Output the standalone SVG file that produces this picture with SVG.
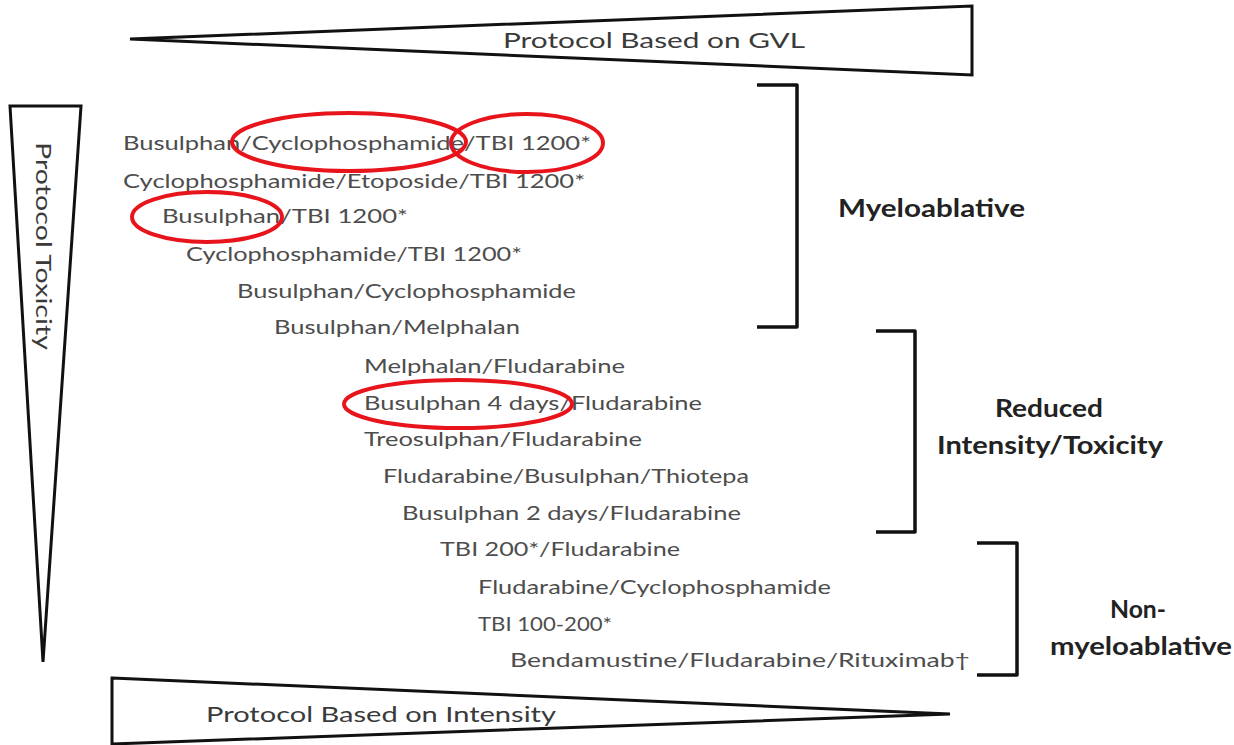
<svg xmlns="http://www.w3.org/2000/svg" width="1234" height="745" viewBox="0 0 1234 745">
<style>
.tri{fill:#fff;stroke:#111;stroke-width:3;stroke-linejoin:miter}
.br{fill:none;stroke:#111;stroke-width:3.5;stroke-linejoin:round}
.t{font-family:Lato,"Open Sans","Liberation Sans",sans-serif;font-size:20px;fill:#4d4d4d}
.ax{font-family:Lato,"Open Sans","Liberation Sans",sans-serif;font-size:22px;fill:#3a3a3a}
.lb{font-family:Lato,"Open Sans","Liberation Sans",sans-serif;font-size:24px;font-weight:bold;fill:#222}
.ring{fill:none;stroke:#e8141c;stroke-width:4}
</style>
<rect width="1234" height="745" fill="#fff"/>
<g id="gvl-axis">
<polygon class="tri" points="130,39 972,6 972,75"/>
<text class="ax" x="503" y="48" textLength="302" lengthAdjust="spacingAndGlyphs">Protocol Based on GVL</text>
</g>
<g id="toxicity-axis">
<polygon class="tri" points="10,106 81,106 43,662"/>
<text class="ax" transform="translate(36,142) rotate(90)" textLength="208" lengthAdjust="spacingAndGlyphs">Protocol Toxicity</text>
</g>
<g id="intensity-axis">
<polygon class="tri" points="112,678 950,714 112,744"/>
<text class="ax" x="206" y="722" textLength="350" lengthAdjust="spacingAndGlyphs">Protocol Based on Intensity</text>
</g>
<g id="protocols">
<text class="t" x="123" y="150" textLength="468" lengthAdjust="spacingAndGlyphs">Busulphan/Cyclophosphamide/TBI 1200*</text>
<text class="t" x="123" y="188" textLength="462" lengthAdjust="spacingAndGlyphs">Cyclophosphamide/Etoposide/TBI 1200*</text>
<text class="t" x="162" y="223" textLength="246" lengthAdjust="spacingAndGlyphs">Busulphan/TBI 1200*</text>
<text class="t" x="186" y="261" textLength="336" lengthAdjust="spacingAndGlyphs">Cyclophosphamide/TBI 1200*</text>
<text class="t" x="237" y="298" textLength="339" lengthAdjust="spacingAndGlyphs">Busulphan/Cyclophosphamide</text>
<text class="t" x="274" y="334" textLength="246" lengthAdjust="spacingAndGlyphs">Busulphan/Melphalan</text>
<text class="t" x="364" y="373" textLength="261" lengthAdjust="spacingAndGlyphs">Melphalan/Fludarabine</text>
<text class="t" x="364" y="410" textLength="338" lengthAdjust="spacingAndGlyphs">Busulphan 4 days/Fludarabine</text>
<text class="t" x="364" y="446" textLength="278" lengthAdjust="spacingAndGlyphs">Treosulphan/Fludarabine</text>
<text class="t" x="383" y="483" textLength="366" lengthAdjust="spacingAndGlyphs">Fludarabine/Busulphan/Thiotepa</text>
<text class="t" x="402" y="520" textLength="339" lengthAdjust="spacingAndGlyphs">Busulphan 2 days/Fludarabine</text>
<text class="t" x="440" y="556" textLength="240" lengthAdjust="spacingAndGlyphs">TBI 200*/Fludarabine</text>
<text class="t" x="478" y="594" textLength="353" lengthAdjust="spacingAndGlyphs">Fludarabine/Cyclophosphamide</text>
<text class="t" x="478" y="631" textLength="134" lengthAdjust="spacingAndGlyphs">TBI 100-200*</text>
<text class="t" x="510" y="667" textLength="460" lengthAdjust="spacingAndGlyphs">Bendamustine/Fludarabine/Rituximab†</text>
</g>
<g id="highlights">
<ellipse class="ring" cx="349" cy="142" rx="117" ry="29"/>
<ellipse class="ring" cx="527" cy="143" rx="76" ry="29"/>
<ellipse class="ring" cx="207" cy="217" rx="75" ry="25"/>
<ellipse class="ring" cx="458" cy="404" rx="114" ry="24"/>
</g>
<g id="connectors">
<path class="br" d="M757,85 H797 V327 H757"/>
<path class="br" d="M876,331 H915 V532 H876"/>
<path class="br" d="M977,543 H1017 V675 H977"/>
</g>
<g id="myeloablative">
<text class="lb" x="838" y="217" textLength="187" lengthAdjust="spacingAndGlyphs">Myeloablative</text>
</g>
<g id="reduced-intensity">
<text class="lb" x="995" y="417" textLength="108" lengthAdjust="spacingAndGlyphs">Reduced</text>
<text class="lb" x="937" y="454" textLength="226" lengthAdjust="spacingAndGlyphs">Intensity/Toxicity</text>
</g>
<g id="non-myeloablative">
<text class="lb" x="1110" y="618" textLength="56" lengthAdjust="spacingAndGlyphs">Non-</text>
<text class="lb" x="1050" y="655" textLength="182" lengthAdjust="spacingAndGlyphs">myeloablative</text>
</g>
</svg>
